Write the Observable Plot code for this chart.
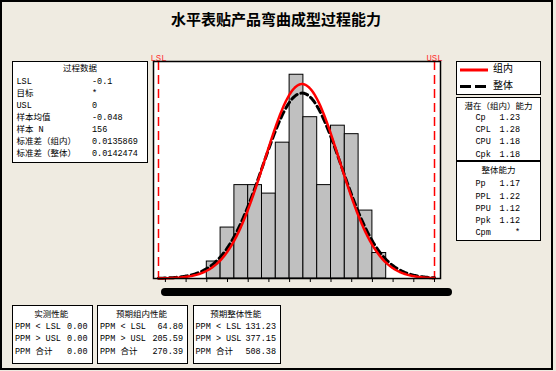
<!DOCTYPE html>
<html>
<head>
<meta charset="utf-8">
<script src="https://cdn.jsdelivr.net/npm/d3@7"></script>
<script src="https://cdn.jsdelivr.net/npm/@observablehq/plot@0.6"></script>
<style>
  html, body { margin: 0; padding: 0; background: #EFEBE1; }
  #root { position: relative; width: 556px; height: 371px; overflow: hidden; background: #EFEBE1;
          font-family: "Liberation Mono", "Noto Sans CJK SC", monospace; }
  #frame { position: absolute; left: 0; top: 0; width: 553px; height: 370px; border: 2px solid #000; box-sizing: border-box; z-index: 1; pointer-events: none; }
  .box { position: absolute; background: #fff; border: 1.5px solid #000; box-sizing: border-box; z-index: 2; }
  .t { position: absolute; line-height: 12px; white-space: pre; font-size: 8.5px; color: #000; z-index: 3; }
  #title { position: absolute; left: 0; width: 552px; top: 8px; text-align: center; font: bold 15px "Noto Sans CJK SC", sans-serif; z-index: 3; }
  #pill { position: absolute; left: 161px; top: 288px; width: 291px; height: 8px; border-radius: 4px; background: #000; z-index: 3; }
  #chart { position: absolute; left: 0; top: 0; z-index: 0; }
</style>
</head>
<body>
<div id="root">
  <div id="chart"></div>
  <div id="title">水平表贴产品弯曲成型过程能力</div>
  <div id="pill"></div>
  <div id="frame"></div>
</div>
<script>
// ---------- data ----------
const LSL = -0.1;
const USL = 0;
const sampleN = 156;
const sampleMean = -0.048;
const sdWithin = 0.0135869;
const sdOverall = 0.0142474;
const binWidth = 0.005;
const binCenters = [-0.080, -0.075, -0.070, -0.065, -0.060, -0.055, -0.050, -0.045, -0.040, -0.035, -0.030, -0.025, -0.020];
const binCounts  = [2, 6, 11, 11, 10, 16, 24, 19, 11, 18, 17, 8, 3];
const xTicks = [-0.0975, -0.09, -0.0825, -0.075, -0.0675, -0.06, -0.0525, -0.045, -0.0375, -0.03, -0.0225, -0.015, -0.0075, 0];
const specLabels = ["LSL", "USL"];

const processTitle = "过程数据";
const processLabels = ["LSL", "目标", "USL", "样本均值", "样本 N", "标准差（组内）", "标准差（整体）"];
const processValues = ["-0.1", "*", "0", "-0.048", "156", "0.0135869", "0.0142474"];

const legendLabels = ["组内", "整体"];

const withinTitle = "潜在（组内）能力";
const withinLabels = ["Cp", "CPL", "CPU", "Cpk"];
const withinValues = ["1.23", "1.28", "1.18", "1.18"];
const overallTitle = "整体能力";
const overallLabels = ["Pp", "PPL", "PPU", "Ppk", "Cpm"];
const overallValues = ["1.17", "1.22", "1.12", "1.12", "*"];

const ppmLabels = ["PPM < LSL", "PPM > USL", "PPM 合计"];
const observedTitle = "实测性能";
const observedValues = ["0.00", "0.00", "0.00"];
const expWithinTitle = "预期组内性能";
const expWithinValues = ["64.80", "205.59", "270.39"];
const expOverallTitle = "预期整体性能";
const expOverallValues = ["131.23", "377.15", "508.38"];

// ---------- derived tables ----------
const bars = binCenters.map((c, i) => ({x1: c - binWidth / 2, x2: c + binWidth / 2, count: binCounts[i]}));
function normalCurve(mu, sd) {
  const pts = [];
  const n = 300;
  for (let i = 0; i <= n; i++) {
    const x = LSL + (USL - LSL) * i / n;
    const z = (x - mu) / sd;
    pts.push({x, y: sampleN * binWidth * Math.exp(-0.5 * z * z) / (sd * Math.sqrt(2 * Math.PI))});
  }
  return pts;
}
const withinCurve = normalCurve(sampleMean, sdWithin);
const overallCurve = normalCurve(sampleMean, sdOverall);
const specs = [LSL, USL].map((v, i) => ({v, label: specLabels[i]}));

// ---------- chart ----------
const plot = Plot.plot({
  width: 556,
  height: 371,
  marginLeft: 153,
  marginRight: 116,
  marginTop: 61,
  marginBottom: 93,
  style: {background: "transparent", fontFamily: "Liberation Mono, monospace", overflow: "visible"},
  x: {domain: [-0.10181, 0.00217]},
  y: {domain: [0, 25.56], axis: null},
  marks: [
    Plot.frame({fill: "white"}),
    Plot.rectY(bars, {x1: "x1", x2: "x2", y: "count", fill: "#c0c0c0", stroke: "black", strokeWidth: 1}),
    Plot.ruleX(specs, {x: "v", stroke: "#ff0000", strokeWidth: 1.5, strokeDasharray: "9,5"}),
    Plot.line(overallCurve, {x: "x", y: "y", stroke: "black", strokeWidth: 3, strokeDasharray: "7,4", curve: "linear"}),
    Plot.line(withinCurve, {x: "x", y: "y", stroke: "#ff0000", strokeWidth: 2.5, curve: "linear"}),
    Plot.text(specs, {x: "v", text: "label", frameAnchor: "top", dy: -7, fill: "#ff3030", fontSize: 9}),
    Plot.axisX({ticks: xTicks, tickSize: 4, stroke: "black", fill: "none", tickFormat: () => "", label: null}),
    Plot.frame({stroke: "black", strokeWidth: 1.5})
  ]
});
document.getElementById("chart").appendChild(plot);

// ---------- text panels ----------
const root = document.getElementById("root");
function box(x1, y1, x2, y2) {
  const d = document.createElement("div");
  d.className = "box";
  Object.assign(d.style, {left: x1 + "px", top: y1 + "px", width: (x2 - x1) + "px", height: (y2 - y1) + "px"});
  root.appendChild(d);
}
function txt(s, x, yc, align, size) {
  const d = document.createElement("div");
  d.className = "t";
  d.textContent = s;
  d.style.top = (yc - 6) + "px";
  if (size) d.style.fontSize = size + "px";
  if (align === "right") d.style.right = (556 - x) + "px";
  else if (align === "center") { d.style.left = (x - 60) + "px"; d.style.width = "120px"; d.style.textAlign = "center"; }
  else d.style.left = x + "px";
  root.appendChild(d);
}
function hline(x1, x2, y) {
  const d = document.createElement("div");
  Object.assign(d.style, {position: "absolute", left: x1 + "px", top: y + "px", width: (x2 - x1) + "px", height: "1.5px", background: "#000", zIndex: 3});
  root.appendChild(d);
}

// process data box
box(12, 61, 148, 163);
txt(processTitle, 80, 69, "center");
processLabels.forEach((s, i) => {
  txt(s, 16.5, 81.8 + i * 12.1);
  txt(processValues[i], 92, 81.8 + i * 12.1);
});

// legend box
box(456, 61, 541, 95);
const lg = document.createElementNS("http://www.w3.org/2000/svg", "svg");
lg.setAttribute("width", "85"); lg.setAttribute("height", "34");
Object.assign(lg.style, {position: "absolute", left: "456px", top: "61px", zIndex: 3});
lg.innerHTML = '<line x1="4" x2="32" y1="9" y2="9" stroke="#ff0000" stroke-width="3"/>' +
               '<line x1="4" x2="32" y1="25.5" y2="25.5" stroke="#000" stroke-width="3" stroke-dasharray="11,4"/>';
root.appendChild(lg);
txt(legendLabels[0], 493, 70, null, 10);
txt(legendLabels[1], 493, 86.5, null, 10);

// capability box
box(456, 97, 541, 240.5);
hline(457, 540, 160);
txt(withinTitle, 498.5, 106.7, "center");
withinLabels.forEach((s, i) => {
  txt(s, 475.5, 118 + i * 12.2);
  txt(withinValues[i], 520, 118 + i * 12.2, "right");
});
txt(overallTitle, 498.5, 170.5, "center");
overallLabels.forEach((s, i) => {
  txt(s, 475.5, 184.3 + i * 12.2);
  txt(overallValues[i], 520, 184.3 + i * 12.2, "right");
});

// bottom boxes
const bottom = [
  {x1: 12, x2: 92.5, title: observedTitle, vals: observedValues},
  {x1: 97, x2: 188, title: expWithinTitle, vals: expWithinValues},
  {x1: 192.5, x2: 281, title: expOverallTitle, vals: expOverallValues}
];
bottom.forEach(b => {
  box(b.x1, 305, b.x2, 364);
  txt(b.title, (b.x1 + b.x2) / 2 - 1, 314.5, "center");
  ppmLabels.forEach((s, i) => {
    txt(s, b.x1 + 3, 326.8 + i * 12.5);
    txt(b.vals[i], b.x2 - 5, 326.8 + i * 12.5, "right");
  });
});
</script>
</body>
</html>
